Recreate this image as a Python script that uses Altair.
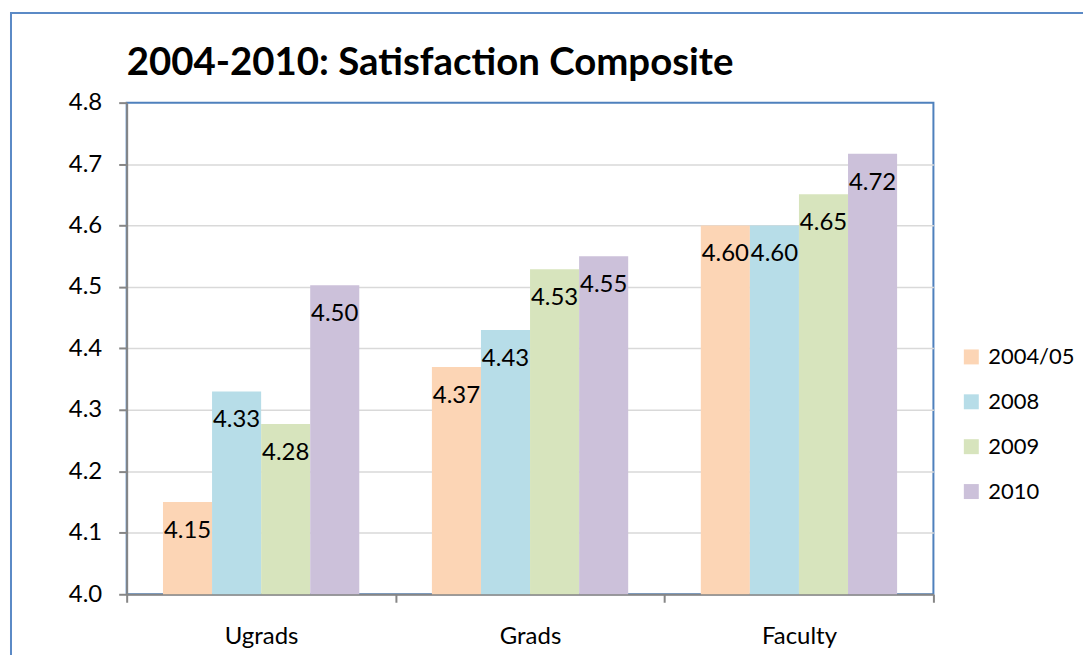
import altair as alt
import pandas as pd

categories = ["Ugrads", "Grads", "Faculty"]
series = ["2004/05", "2008", "2009", "2010"]
values_2004_05 = [4.15, 4.37, 4.60]
values_2008 = [4.33, 4.43, 4.60]
values_2009 = [4.277, 4.529, 4.651]
values_2010 = [4.503, 4.55, 4.717]
colors = ["#fcd5b5", "#b7dde8", "#d7e4bd", "#ccc1da"]
y_ticks = [4.0, 4.1, 4.2, 4.3, 4.4, 4.5, 4.6, 4.7, 4.8]
title_text = "2004-2010: Satisfaction Composite"

rows = []
for s, vals in zip(series, [values_2004_05, values_2008, values_2009, values_2010]):
    for c, v in zip(categories, vals):
        rows.append({"group": c, "year": s, "value": v})
df = pd.DataFrame(rows)

FONT = "Lato"
FS = 24

x_enc = alt.X("group:N", sort=categories, title=None,
              scale=alt.Scale(paddingInner=0, paddingOuter=0),
              axis=alt.Axis(labelAngle=0, tickBand="extent", ticks=True, tickSize=8,
                            domainColor="#868686", tickColor="#868686", domainWidth=2,
                            tickWidth=2, labelFontSize=FS, labelPadding=22,
                            labelColor="#000000", labelFont=FONT, grid=False))
xoff = alt.XOffset("year:N", sort=series,
                   scale=alt.Scale(paddingInner=0, paddingOuter=0.74))
y_enc = alt.Y("value:Q", title=None,
              scale=alt.Scale(domain=[4.0, 4.8], zero=False, nice=False),
              axis=alt.Axis(values=y_ticks, format=".1f", tickSize=8, labelPadding=17,
                            domainColor="#868686", tickColor="#868686", domainWidth=2,
                            tickWidth=2, gridColor="#d9d9d9", gridWidth=1.5,
                            gridOpacity=alt.expr("datum.value >= 4.79 ? 0 : 1"),
                            labelFontSize=FS, labelColor="#000000", labelFont=FONT))

base = alt.Chart(df)

bars = base.mark_bar().encode(
    x=x_enc, xOffset=xoff, y=y_enc,
    y2=alt.datum(4.0),
    color=alt.Color("year:N", sort=series,
                    scale=alt.Scale(domain=series, range=colors),
                    legend=alt.Legend(title=None, orient="none", legendX=836, legendY=244,
                                      symbolType="square", symbolSize=225,
                                      symbolStrokeWidth=0, labelFontSize=22,
                                      labelFont=FONT, labelColor="#000000",
                                      rowPadding=23, labelOffset=6)),
)

labels = base.mark_text(baseline="middle", dy=29, fontSize=FS, font=FONT,
                        color="#000000").encode(
    x=alt.X("group:N", sort=categories),
    xOffset=alt.XOffset("year:N", sort=series),
    y=alt.Y("value:Q"),
    text=alt.Text("value:Q", format=".2f"),
)

border = alt.Chart(pd.DataFrame({"a": [0]})).mark_rect(
    fillOpacity=0, stroke="#5b8ac6", strokeWidth=2, clip=False
).encode(x=alt.value(-116), x2=alt.value(1200), y=alt.value(-90), y2=alt.value(900))

title = alt.Chart(pd.DataFrame({"t": [title_text]})).mark_text(
    align="left", baseline="middle", fontSize=38.5, font=FONT, fontWeight="bold",
    color="#000000", clip=False
).encode(x=alt.value(0), y=alt.value(-40), text="t:N")

chart = alt.layer(border, bars, labels, title).properties(
    width=809, height=493,
    autosize=alt.AutoSizeParams(type="none"),
    padding={"left": 119, "top": 94, "right": 150, "bottom": 60},
    background="#ffffff",
).configure_view(stroke="#4f81bd", strokeWidth=2)

chart.save("out.html", embed_options={"renderer": "svg", "actions": False})
